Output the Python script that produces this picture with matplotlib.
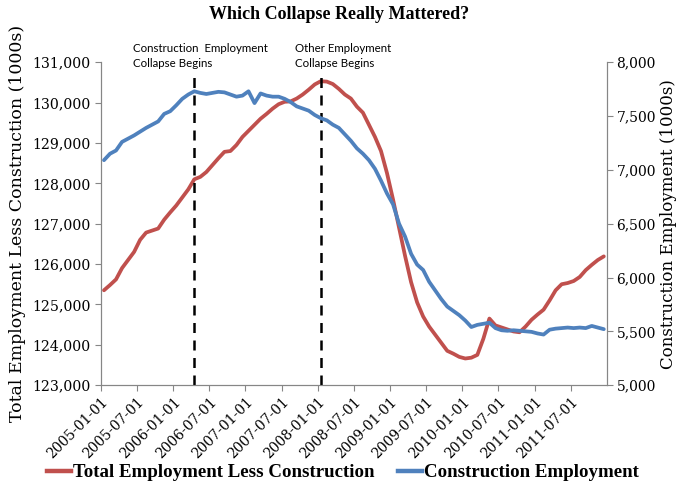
import numpy as np
import matplotlib
matplotlib.use("Agg")
import matplotlib.pyplot as plt

# monthly values, 2005-01 .. 2011-12
months = [f"{y}-{m:02d}-01" for y in range(2005, 2012) for m in range(1, 13)]

total_less_constr = [
    125350, 125480, 125620, 125900, 126100, 126300, 126600, 126780, 126830, 126880, 127100, 127280,
    127450, 127650, 127850, 128100, 128160, 128280, 128450, 128620, 128780, 128800, 128950, 129150,
    129300, 129450, 129600, 129720, 129850, 129960, 130020, 130030, 130100, 130200, 130320, 130450,
    130530, 130520, 130460, 130340, 130200, 130100, 129900, 129750, 129450, 129150, 128800, 128250,
    127600, 126900, 126200, 125550, 125050, 124700, 124450, 124250, 124050, 123850, 123780, 123700,
    123660, 123680, 123750, 124150, 124650, 124480, 124430, 124380, 124330, 124310, 124450, 124620,
    124750, 124870, 125100, 125350, 125500, 125530, 125580, 125680, 125850, 125980, 126100, 126190,
]

construction = [
    7090, 7150, 7180, 7260, 7290, 7320, 7355, 7390, 7420, 7450, 7520, 7545,
    7600, 7660, 7700, 7730, 7715, 7705, 7715, 7725, 7720, 7700, 7680, 7690,
    7730, 7620, 7710, 7690, 7680, 7680, 7660, 7630, 7590, 7570, 7550, 7510,
    7480, 7460, 7420, 7390, 7330, 7270, 7200, 7150, 7090, 7010, 6900, 6780,
    6680, 6500, 6380, 6220, 6120, 6070, 5960, 5880, 5800, 5730, 5690, 5650,
    5600, 5540, 5560, 5570, 5580, 5530, 5510, 5505, 5510, 5505, 5500, 5495,
    5480, 5470, 5515, 5525, 5530, 5535, 5530, 5535, 5530, 5550, 5535, 5520,
]

events = ["2006-04-01", "2008-01-01"]
event_labels = ["Construction  Employment\nCollapse Begins", "Other Employment\nCollapse Begins"]
label_shift = [-10.1, -4.3]   # months, left edge of each note

red = "#C0504D"
blue = "#4F81BD"
grey = "#868686"
title_font = ["Liberation Serif", "DejaVu Serif"]

plt.rcParams["font.family"] = ["DejaVu Serif"]

fig = plt.figure(figsize=(6.79, 4.9), dpi=100)
ax = fig.add_axes([0.1487, 0.214, 0.745, 0.659])
ax2 = ax.twinx()

x = np.arange(len(months))
ax.plot(x, total_less_constr, color=red, lw=2.7, solid_capstyle="round", zorder=3)
ax2.plot(x, construction, color=blue, lw=2.7, solid_capstyle="round", zorder=3)

ax.set_xlim(-0.5, len(months) - 0.5)
ax.set_ylim(123000, 131000)
ax2.set_ylim(5000, 8000)
ax.set_yticks(np.arange(123000, 131001, 1000))
ax2.set_yticks(np.arange(5000, 8001, 500))
ax.set_yticklabels([f"{v:,}" for v in range(123000, 131001, 1000)])
ax2.set_yticklabels([f"{v:,}" for v in range(5000, 8001, 500)])

tick_pos = np.arange(0, len(months), 6) - 0.5
ax.set_xticks(tick_pos)
ax.set_xticklabels(months[::6], rotation=45, ha="right", va="top",
                   rotation_mode="anchor", fontsize=10)

for a in (ax, ax2):
    a.spines["top"].set_visible(False)
    for s in ("left", "right", "bottom"):
        a.spines[s].set_color(grey)
    a.tick_params(colors=grey, labelcolor="black", length=4, direction="out")
ax.tick_params(axis="y", labelsize=10.2)
ax2.tick_params(axis="y", labelsize=10, pad=3)
ax.tick_params(axis="x", pad=3)

ax.set_ylabel("Total Employment Less Construction (1000s)", fontsize=12.5, labelpad=4)
ax2.set_ylabel("Construction Employment (1000s)", fontsize=12, labelpad=3)

for ev, lab, sh in zip(events, event_labels, label_shift):
    i = months.index(ev)
    ax.axvline(i, ymin=0, ymax=0.972, color="black", ls=(0, (4, 3)), lw=1.8, zorder=4)
    ax.text(i + sh, 130830, lab, fontsize=8.3, fontfamily=["Lato", "DejaVu Sans"],
            ha="left", va="bottom", linespacing=1.45)

fig.text(0.5, 0.971, "Which Collapse Really Mattered?", ha="center", va="center",
         fontfamily=title_font, fontsize=13, fontweight="bold")

h1, = ax.plot([], [], color=red, lw=3.2)
h2, = ax.plot([], [], color=blue, lw=3.2)
fig.legend([h1, h2], ["Total Employment Less Construction", "Construction Employment"],
           loc="center", bbox_to_anchor=(0.505, 0.035), ncol=2, frameon=False,
           prop={"family": title_font, "size": 13.6, "weight": "bold"},
           handlelength=1.3, handletextpad=0.1, columnspacing=1.2)

fig.savefig("out.png", dpi=100)
